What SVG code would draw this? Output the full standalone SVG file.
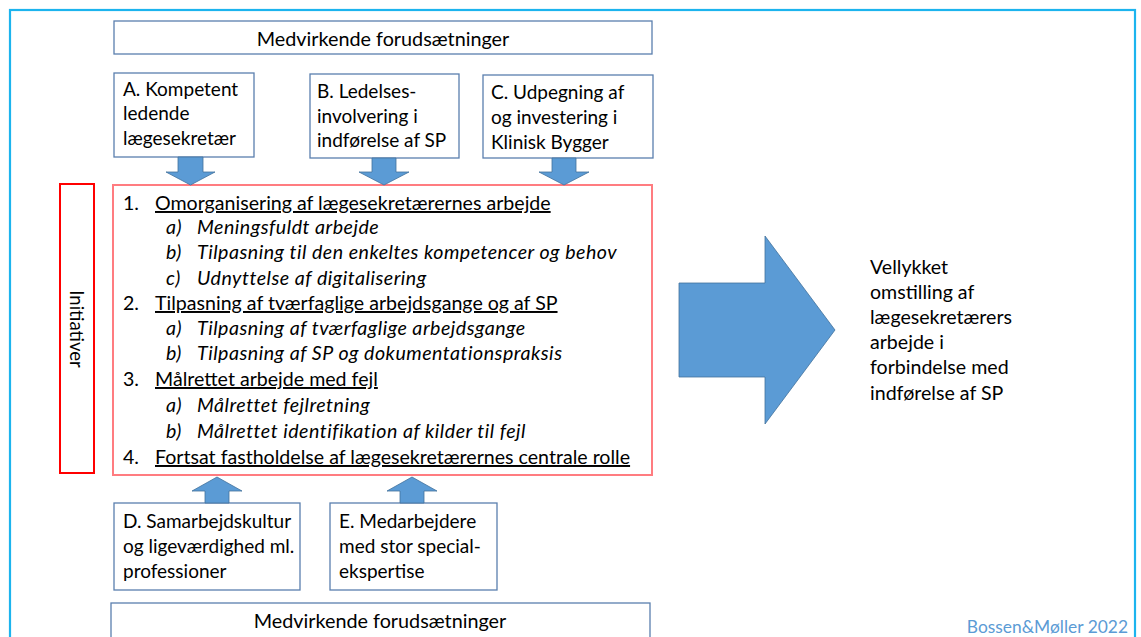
<svg xmlns="http://www.w3.org/2000/svg" width="1141" height="637" viewBox="0 0 1141 637">
<style>
text{font-family:Lato,"Liberation Sans",sans-serif;fill:#000}
.box{fill:#fff;stroke:#5a7fae;stroke-width:1.3}
.arr{fill:#5b9bd5;stroke:#41719c;stroke-width:0.8}
.bt{font-size:19px}
.rt{font-size:19.6px}
.lt{font-size:19.6px}
.it{font-size:19.6px;font-style:italic;letter-spacing:0.5px}
.u{text-decoration:underline}
.pre{font-size:19.8px}
</style>
<rect x="0" y="0" width="1141" height="637" fill="#fff"/>
<rect id="frame" x="10" y="10" width="1125" height="640" fill="none" stroke="#1cb4ee" stroke-width="2.2"/>

<g id="top-prereq"><rect class="box" x="114" y="21" width="538" height="33"/><text x="383" y="46" text-anchor="middle" class="pre">Medvirkende forudsætninger</text></g>

<g id="A"><rect class="box" x="114" y="73" width="140" height="84"/>
<text class="bt" x="123" y="96">A. Kompetent</text><text class="bt" x="123" y="120">ledende</text><text class="bt" x="123" y="145">lægesekretær</text></g>
<g id="B"><rect class="box" x="310" y="74" width="149" height="84"/>
<text class="bt" x="317" y="98">B. Ledelses-</text><text class="bt" x="317" y="123">involvering i</text><text class="bt" x="317" y="147">indførelse af SP</text></g>
<g id="C"><rect class="box" x="483" y="75" width="170" height="83"/>
<text class="bt" x="491" y="99">C. Udpegning af</text><text class="bt" x="491" y="124">og investering i</text><text class="bt" x="491" y="149">Klinisk Bygger</text></g>

<g id="initiativer"><rect x="60" y="184" width="34" height="289" fill="#fff" stroke="#ff0000" stroke-width="2"/>
<text x="77" y="329" transform="rotate(90 77 329)" text-anchor="middle" dominant-baseline="central" style="font-size:18.5px">Initiativer</text></g>

<g id="main"><rect x="113" y="185" width="539" height="290" fill="#fff" stroke="#ff7c80" stroke-width="2"/>
<text class="lt" x="123" y="210">1.</text><text class="lt u" x="155" y="210">Omorganisering af lægesekretærernes arbejde</text>
<text class="it" x="166" y="234">a)</text><text class="it" x="197" y="234">Meningsfuldt arbejde</text>
<text class="it" x="166" y="259">b)</text><text class="it" x="197" y="259">Tilpasning til den enkeltes kompetencer og behov</text>
<text class="it" x="166" y="285">c)</text><text class="it" x="197" y="285">Udnyttelse af digitalisering</text>
<text class="lt" x="123" y="310">2.</text><text class="lt u" x="155" y="310">Tilpasning af tværfaglige arbejdsgange og af SP</text>
<text class="it" x="166" y="335">a)</text><text class="it" x="197" y="335">Tilpasning af tværfaglige arbejdsgange</text>
<text class="it" x="166" y="360">b)</text><text class="it" x="197" y="360">Tilpasning af SP og dokumentationspraksis</text>
<text class="lt" x="123" y="386">3.</text><text class="lt u" x="155" y="386">Målrettet arbejde med fejl</text>
<text class="it" x="166" y="412">a)</text><text class="it" x="197" y="412">Målrettet fejlretning</text>
<text class="it" x="166" y="438">b)</text><text class="it" x="197" y="438">Målrettet identifikation af kilder til fejl</text>
<text class="lt" x="123" y="464">4.</text><text class="lt u" x="155" y="464">Fortsat fastholdelse af lægesekretærernes centrale rolle</text>
</g>

<g id="D"><rect class="box" x="114" y="503" width="186" height="87"/>
<text class="bt" x="123" y="528">D. Samarbejdskultur</text><text class="bt" x="123" y="553">og ligeværdighed ml.</text><text class="bt" x="123" y="578">professioner</text></g>
<g id="E"><rect class="box" x="330" y="503" width="167" height="87"/>
<text class="bt" x="339" y="528">E. Medarbejdere</text><text class="bt" x="339" y="553">med stor special-</text><text class="bt" x="339" y="578">ekspertise</text></g>

<g id="bottom-prereq"><rect class="box" x="111" y="603" width="539" height="40"/><text x="380" y="628" text-anchor="middle" class="pre">Medvirkende forudsætninger</text></g>

<g id="result"><text class="rt" x="870" y="274">Vellykket</text><text class="rt" x="870" y="299">omstilling af</text><text class="rt" x="870" y="324">lægesekretærers</text><text class="rt" x="870" y="349">arbejde i</text><text class="rt" x="870" y="374">forbindelse med</text><text class="rt" x="870" y="400">indførelse af SP</text></g>

<g id="connectors">
<path class="arr" d="M178,157 H203 V172 H215 L190.5,185 L166,172 H178 Z"/>
<path class="arr" d="M372,158 H396 V172 H409 L384,185 L359,172 H372 Z"/>
<path class="arr" d="M552,158 H576 V172 H589 L564,185 L539,172 H552 Z"/>
<path class="arr" d="M205,503 V491 H192 L217,477 L242,491 H229 V503 Z"/>
<path class="arr" d="M400,503 V491 H387 L412,477 L437,491 H424 V503 Z"/>
<path class="arr" d="M679,283 H765 V236 L835,330 L765,424 V377 H679 Z"/>
</g>

<text x="1128" y="633" text-anchor="end" style="font-size:17.4px;fill:#5b9bd5">Bossen&amp;Møller 2022</text>
</svg>
